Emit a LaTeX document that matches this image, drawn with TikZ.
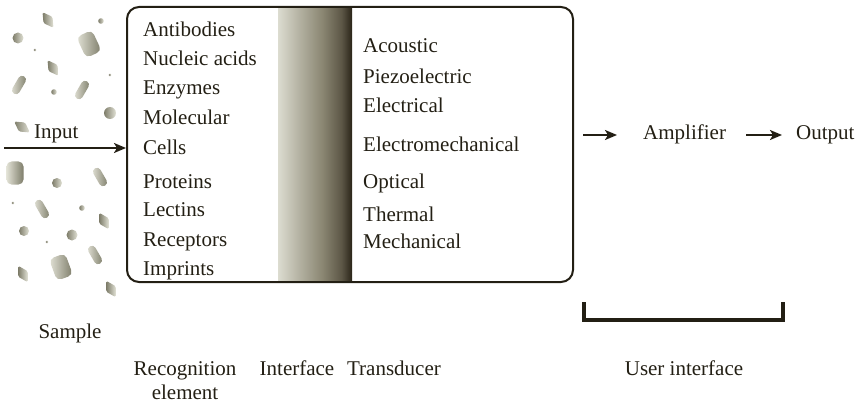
\documentclass[tikz,border=0pt]{standalone}
\usepackage{fontspec}
\setmainfont{Liberation Serif}
\usetikzlibrary{arrows.meta}

\definecolor{ink}{HTML}{231F14}
\definecolor{gdark}{HTML}{7E7D6A}
\definecolor{glight}{HTML}{E2E2D6}
\definecolor{bandA}{HTML}{DCDCD0}
\definecolor{bandB}{HTML}{B2B0A0}
\definecolor{bandC}{HTML}{8A8672}
\definecolor{bandD}{HTML}{5C5646}
\definecolor{bandE}{HTML}{2A2418}

% light-to-dark band of the interface layer
\pgfdeclarehorizontalshading{ifaceshade}{100bp}{%
  color(0bp)=(bandA); color(25bp)=(bandA); color(40bp)=(bandB);
  color(55bp)=(bandC); color(68bp)=(bandD); color(75bp)=(bandE);
  color(100bp)=(bandE)}

\tikzset{
  lbl/.style={font=\fontsize{21}{25}\selectfont, text=ink, inner sep=0pt},
  arr/.style={draw=ink, line width=2pt, -{Stealth[length=12pt,width=10pt,inset=3pt]}},
  lensgrain/.style={left color=gdark, right color=glight, rounded corners=1.5pt},
  pillgrain/.style={left color=glight, right color=gdark},
  dotgrain/.style={left color=gdark, right color=glight},
}

\begin{document}
\begin{tikzpicture}[x=1pt,y=-1pt]
\useasboundingbox (0,0) rectangle (866,406);

% ---- sample particles ----
\foreach \px/\py/\pa in {48/20/35, 53/68/35, 22/127/55, 104/221/30, 23/274/30, 111/289/30}{
  \begin{scope}[shift={(\px,\py)}, rotate=\pa]
    \shade[lensgrain] (0,-9.5) -- (5.5,0) -- (0,9.5) -- (-5.5,0) -- cycle;
  \end{scope}}
\foreach \px/\py/\pr in {18/38/5.5, 110/113/6, 57/183/5, 24/231/5, 72/235/5.5,
                         54/92/2.8, 101/21/2.8, 82/208/2.8,
                         35/50/1.4, 110/75/1.4, 13/203/1.4, 47/242/1.4}{
  \shade[dotgrain] (\px,\py) circle[radius=\pr];}
\foreach \px/\py/\pa in {19/85/-30, 82/90/-30, 42/209/30, 100/177/30, 95/255/30}{
  \begin{scope}[shift={(\px,\py)}, rotate=\pa]
    \shade[pillgrain, rounded corners=3.9pt] (-4,-10) rectangle (4,10);
  \end{scope}}
\foreach \px/\py/\pa in {89/44/25, 15/173/0, 61/267/20}{
  \begin{scope}[shift={(\px,\py)}, rotate=\pa]
    \shade[pillgrain, rounded corners=5pt] (-8.5,-11.5) rectangle (8.5,11.5);
  \end{scope}}

% ---- biosensor block ----
\shade[shading=ifaceshade] (278,8) rectangle (352,281);
\node[draw=ink, line width=2pt, rounded corners=12pt, minimum width=446pt,
      minimum height=275pt, inner sep=0pt] (box) at (350,144.5) {};

% recognition elements
\node[lbl, anchor=base west] (r1) at (143,37)  {Antibodies};
\node[lbl, anchor=base west] (r2) at (143,66)  {Nucleic acids};
\node[lbl, anchor=base west] (r3) at (143,95)  {Enzymes};
\node[lbl, anchor=base west] (r4) at (143,125) {Molecular};
\node[lbl, anchor=base west] (r5) at (143,155) {Cells};
\node[lbl, anchor=base west] (r6) at (143,188) {Proteins};
\node[lbl, anchor=base west] (r7) at (143,216) {Lectins};
\node[lbl, anchor=base west] (r8) at (143,246) {Receptors};
\node[lbl, anchor=base west] (r9) at (143,275) {Imprints};

% transducer types
\node[lbl, anchor=base west] (t1) at (363,53)  {Acoustic};
\node[lbl, anchor=base west] (t2) at (363,84)  {Piezoelectric};
\node[lbl, anchor=base west] (t3) at (363,113) {Electrical};
\node[lbl, anchor=base west] (t4) at (363,152) {Electromechanical};
\node[lbl, anchor=base west] (t5) at (363,188) {Optical};
\node[lbl, anchor=base west] (t6) at (363,221) {Thermal};
\node[lbl, anchor=base west] (t7) at (363,248) {Mechanical};

% ---- signal path ----
\node[lbl, anchor=base west] (inp) at (34,139) {Input};
\coordinate (inStart) at (4,148);
\draw[arr] (inStart) -- (inStart -| box.west);

\node[lbl, anchor=base west] (amp) at (643,140) {Amplifier};
\node[lbl, anchor=base west] (out) at (796,140) {Output};
\coordinate (outStart) at (583,135);
\draw[arr, shorten >=26pt] (outStart) -- (outStart -| amp.west);
\draw[arr, shorten <=20pt, shorten >=14pt] (amp.east |- outStart) -- (out.west |- outStart);

% user interface bracket
\draw[ink, line width=3.5pt] (584,302) -- (584,320) -- (783,320) -- (783,302);

% ---- captions ----
\node[lbl, anchor=base] (smp) at (70,338) {Sample};
\node[lbl, anchor=base] (rec1) at (185,375) {Recognition};
\node[lbl, anchor=base] (rec2) at (185,399) {element};
\node[lbl, anchor=base] (ifc) at (297,375) {Interface};
\node[lbl, anchor=base] (trd) at (394,375) {Transducer};
\node[lbl, anchor=base] (usr) at (684,375) {User interface};
\end{tikzpicture}
\end{document}
